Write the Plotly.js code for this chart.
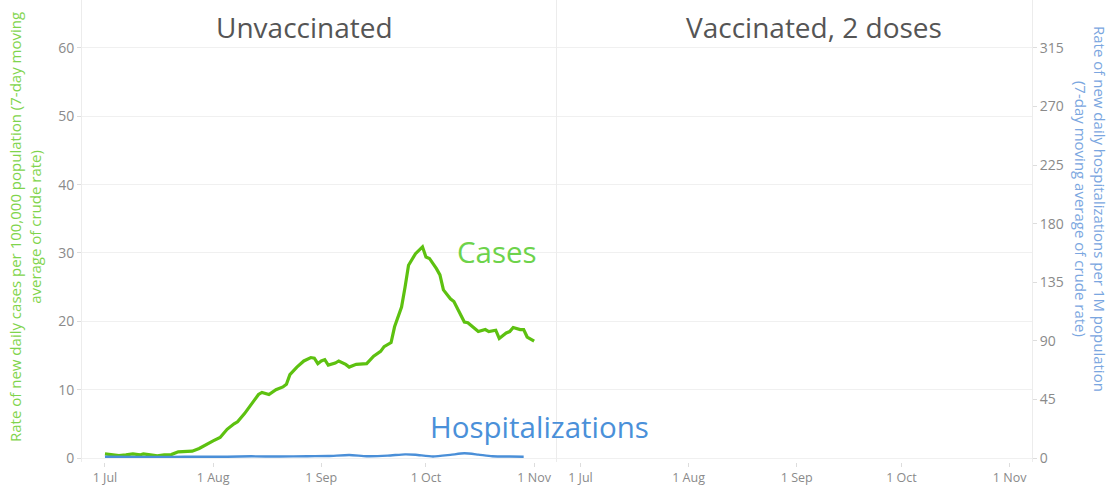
<!DOCTYPE html>
<html>
<head>
<meta charset="utf-8">
<script src="https://cdn.plot.ly/plotly-3.0.1.min.js"></script>
<style>html,body{margin:0;padding:0;background:#fff;}#chart{width:1118px;height:489px;}</style>
</head>
<body>
<div id="chart"></div>
<script>
// Cases per 100,000 (unvaccinated), 7-day moving average
const caseDates = ['2021-07-01','2021-07-03','2021-07-05','2021-07-07','2021-07-09','2021-07-11','2021-07-12','2021-07-14','2021-07-16','2021-07-18','2021-07-20','2021-07-22','2021-07-24','2021-07-26','2021-07-28','2021-07-30','2021-08-01','2021-08-03','2021-08-05','2021-08-07','2021-08-08','2021-08-10','2021-08-12','2021-08-14','2021-08-15','2021-08-17','2021-08-19','2021-08-21','2021-08-22','2021-08-23','2021-08-25','2021-08-27','2021-08-29','2021-08-30','2021-08-31','2021-09-01','2021-09-02','2021-09-03','2021-09-05','2021-09-06','2021-09-08','2021-09-09','2021-09-11','2021-09-13','2021-09-14','2021-09-16','2021-09-18','2021-09-19','2021-09-21','2021-09-22','2021-09-24','2021-09-25','2021-09-26','2021-09-28','2021-09-30','2021-10-01','2021-10-02','2021-10-04','2021-10-05','2021-10-06','2021-10-08','2021-10-09','2021-10-11','2021-10-12','2021-10-13','2021-10-15','2021-10-16','2021-10-18','2021-10-19','2021-10-21','2021-10-22','2021-10-24','2021-10-25','2021-10-26','2021-10-28','2021-10-29','2021-10-30','2021-11-01'];
const caseValues = [0.6,0.5,0.35,0.45,0.6,0.45,0.6,0.45,0.3,0.45,0.5,0.9,1.0,1.0,1.4,2.0,2.5,3.0,4.2,5.0,5.3,6.5,8.0,9.3,9.6,9.3,10.0,10.4,10.8,12.2,13.3,14.2,14.7,14.6,13.8,14.2,14.4,13.6,13.9,14.2,13.7,13.3,13.7,13.7,13.8,14.9,15.6,16.3,16.9,19.2,22.1,25.0,28.2,29.9,30.9,29.4,29.2,27.7,26.8,24.6,23.3,22.9,21.0,19.9,19.8,19.0,18.5,18.8,18.5,18.7,17.5,18.3,18.5,19.1,18.8,18.8,17.7,17.1];

// Hospitalizations per 1M (unvaccinated), 7-day moving average
const hospDates = ['2021-07-01','2021-07-10','2021-07-20','2021-07-28','2021-08-05','2021-08-12','2021-08-20','2021-08-28','2021-09-03','2021-09-09','2021-09-14','2021-09-20','2021-09-25','2021-09-28','2021-10-03','2021-10-08','2021-10-12','2021-10-16','2021-10-20','2021-10-25','2021-10-29'];
const hospValues = [1.0,0.9,0.9,1.0,1.0,1.3,1.1,1.4,1.5,2.3,1.4,1.8,2.8,2.5,1.2,2.4,3.6,2.6,1.4,1.1,1.0];

const panelTitles = ['Unvaccinated', 'Vaccinated, 2 doses'];
const tickDates = ['2021-07-01','2021-08-01','2021-09-01','2021-10-01','2021-11-01'];
const tickLabels = ['1 Jul','1 Aug','1 Sep','1 Oct','1 Nov'];
const leftTicks = [0,10,20,30,40,50,60];
const rightTicks = [0,45,90,135,180,225,270,315];

const FONT = 'Open Sans, DejaVu Sans, sans-serif';
const xRange = ['2021-06-24 10:00','2021-11-07 10:00'];

const traces = [
  {x: caseDates, y: caseValues, xaxis:'x', yaxis:'y', type:'scatter', mode:'lines',
   line:{color:'#5dc110', width:3.2, shape:'linear'}, hoverinfo:'skip'},
  {x: hospDates, y: hospValues, xaxis:'x', yaxis:'y2', type:'scatter', mode:'lines',
   line:{color:'#4a8fd8', width:2.4, shape:'spline', smoothing:0.6}, hoverinfo:'skip'},
  {x: [], y: [], xaxis:'x2', yaxis:'y3', type:'scatter', mode:'lines', hoverinfo:'skip'}
];

const xCommon = {
  type:'date', range: xRange, tickvals: tickDates, ticktext: tickLabels,
  ticks:'outside', ticklen:4, tickcolor:'#dddddd', tickfont:{family:FONT, size:12.5, color:'#8a8a8a'},
  showgrid:false, zeroline:false, showline:false, fixedrange:true
};

const yRange = [-0.585, 67.02];
const layout = {
  width:1118, height:489,
  margin:{l:82, r:86, t:0, b:27},
  paper_bgcolor:'#ffffff', plot_bgcolor:'#ffffff',
  showlegend:false,
  xaxis: Object.assign({}, xCommon, {domain:[0,0.4995], anchor:'y'}),
  xaxis2: Object.assign({}, xCommon, {domain:[0.5005,1], anchor:'y3'}),
  yaxis: {range:yRange, tickvals:leftTicks, ticks:'outside', ticklen:4, tickcolor:'#dddddd',
    tickfont:{family:FONT, size:14, color:'#8a8a8a'}, gridcolor:'#f0f0f0', gridwidth:1,
    showline:true, linecolor:'#ececec', zeroline:false, anchor:'x'},
  yaxis2: {range:[yRange[0]*5.25, yRange[1]*5.25], tickvals:rightTicks, overlaying:'y', side:'right',
    anchor:'free', position:1, ticks:'outside', ticklen:4, tickcolor:'#dddddd',
    tickfont:{family:FONT, size:14, color:'#8a8a8a'}, showgrid:false, showline:true, linecolor:'#ececec', zeroline:false},
  yaxis3: {range:yRange, tickvals:leftTicks, anchor:'x2', showticklabels:false, ticks:'',
    gridcolor:'#f0f0f0', gridwidth:1, showline:true, linecolor:'#ececec', zeroline:false},
  annotations: [
    {text: panelTitles[0], xref:'paper', yref:'paper', x:(304-82)/950, y:(462-27)/462, showarrow:false,
     xanchor:'center', yanchor:'middle', font:{family:FONT, size:28, color:'#555555'}},
    {text: panelTitles[1], xref:'paper', yref:'paper', x:(814-82)/950, y:(462-27)/462, showarrow:false,
     xanchor:'center', yanchor:'middle', font:{family:FONT, size:28, color:'#555555'}},
    {text:'Cases', xref:'paper', yref:'paper', x:(497-82)/950, y:(462-252)/462, showarrow:false,
     xanchor:'center', yanchor:'middle', font:{family:FONT, size:29.5, color:'#6dd34b'}},
    {text:'Hospitalizations', xref:'paper', yref:'paper', x:(539-82)/950, y:(462-426)/462, showarrow:false,
     xanchor:'center', yanchor:'middle', font:{family:FONT, size:29.5, color:'#4a90d9'}},
    {text:'Rate of new daily cases per 100,000 population (7-day moving<br>average of crude rate)',
     xref:'paper', yref:'paper', x:(25-82)/950, y:(462-227)/462, showarrow:false, textangle:-90,
     xanchor:'center', yanchor:'middle', font:{family:FONT, size:15, color:'#7fd44c'}},
    {text:'Rate of new daily hospitalizations per 1M population<br>(7-day moving average of crude rate)',
     xref:'paper', yref:'paper', x:(1090-82)/950, y:(462-209)/462, showarrow:false, textangle:90,
     xanchor:'center', yanchor:'middle', font:{family:FONT, size:15, color:'#7aa6e0'}}
  ]
};

Plotly.newPlot('chart', traces, layout, {displayModeBar:false, staticPlot:true});
</script>
</body>
</html>
